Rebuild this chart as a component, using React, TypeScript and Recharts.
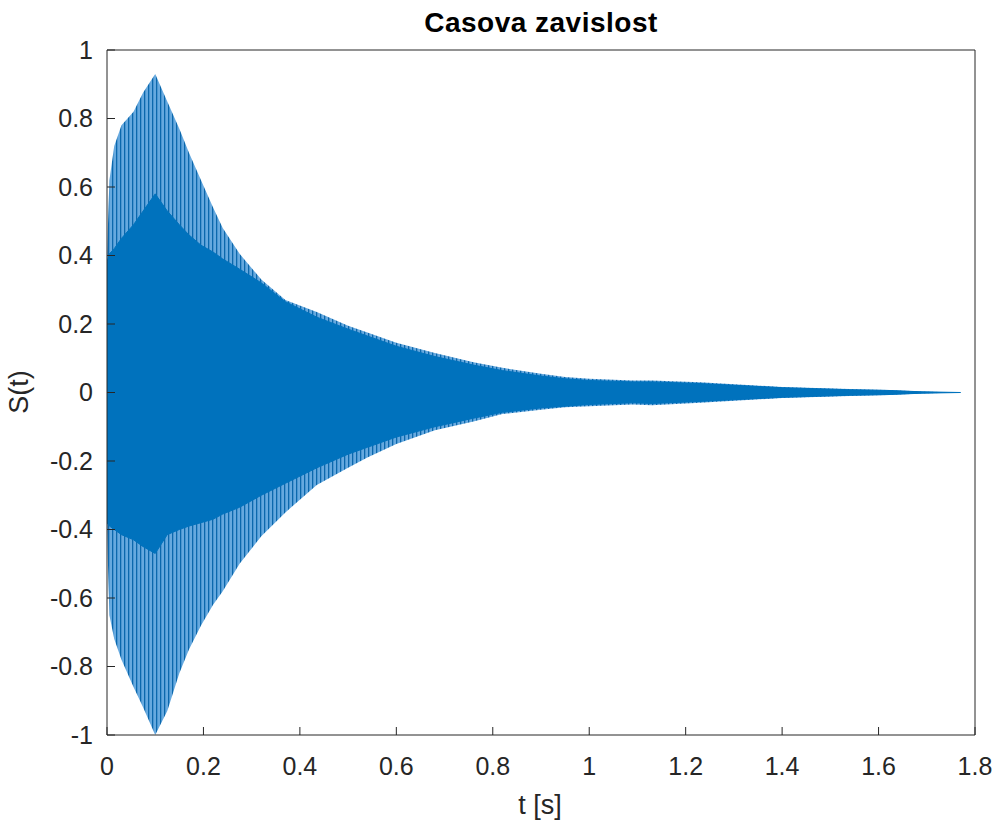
import React from "react";
import { ComposedChart, Area, XAxis, YAxis } from "recharts";

// time samples (s)
const times = [0, 0.005, 0.015, 0.03, 0.055, 0.075, 0.1, 0.125, 0.15, 0.17, 0.195, 0.22, 0.24, 0.275, 0.32, 0.37, 0.435, 0.5, 0.54, 0.6, 0.68, 0.76, 0.82, 0.9, 0.95, 1.0, 1.09, 1.13, 1.23, 1.4, 1.54, 1.62, 1.69, 1.77];

// outer (light, sparse lines) envelope
const outerHi = [0.4, 0.62, 0.72, 0.78, 0.82, 0.876, 0.93, 0.85, 0.77, 0.7, 0.62, 0.54, 0.48, 0.405, 0.33, 0.27, 0.235, 0.195, 0.175, 0.145, 0.115, 0.088, 0.072, 0.055, 0.045, 0.04, 0.035, 0.035, 0.03, 0.016, 0.01, 0.007, 0.003, 0];
const outerLo = [-0.4, -0.65, -0.72, -0.78, -0.86, -0.92, -1.0, -0.93, -0.82, -0.75, -0.68, -0.62, -0.58, -0.5, -0.42, -0.35, -0.27, -0.22, -0.19, -0.15, -0.11, -0.085, -0.063, -0.05, -0.043, -0.04, -0.035, -0.037, -0.03, -0.016, -0.01, -0.007, -0.003, 0];

// inner (solid) envelope
const innerHi = [0.38, 0.405, 0.42, 0.45, 0.49, 0.53, 0.58, 0.53, 0.49, 0.46, 0.43, 0.41, 0.39, 0.36, 0.32, 0.265, 0.22, 0.185, 0.165, 0.135, 0.105, 0.08, 0.064, 0.048, 0.04, 0.035, 0.031, 0.031, 0.026, 0.014, 0.008, 0.006, 0.002, 0];
const innerLo = [-0.38, -0.39, -0.4, -0.415, -0.43, -0.45, -0.47, -0.415, -0.4, -0.39, -0.38, -0.37, -0.355, -0.335, -0.3, -0.265, -0.22, -0.18, -0.16, -0.13, -0.1, -0.075, -0.058, -0.045, -0.04, -0.035, -0.03, -0.032, -0.026, -0.014, -0.008, -0.006, -0.002, 0];

const xTicks = [0, 0.2, 0.4, 0.6, 0.8, 1, 1.2, 1.4, 1.6, 1.8];
const yTicks = [-1, -0.8, -0.6, -0.4, -0.2, 0, 0.2, 0.4, 0.6, 0.8, 1];

const data = times.map((t, i) => ({
  t,
  outer: [outerLo[i], outerHi[i]],
  inner: [innerLo[i], innerHi[i]],
}));

const AXIS = "#262626";
const FONT = "'Liberation Sans', Arial, sans-serif";
const tickStyle = { fill: AXIS, fontSize: 25, fontFamily: FONT };

export default function App() {
  return (
    <div style={{ position: "absolute", left: 0, top: 0, width: 1003, height: 823, background: "#fff" }}>
      <ComposedChart width={1003} height={823} data={data} margin={{ top: 40, right: 18, bottom: 58, left: 47 }}>
        <defs>
          <pattern id="strokes" width="4" height="10" patternUnits="userSpaceOnUse">
            <rect width="4" height="10" fill="#66a9df" />
            <rect width="1.3" height="10" fill="#0b68ad" />
          </pattern>
        </defs>
        <XAxis
          xAxisId="bottom"
          dataKey="t"
          type="number"
          domain={[0, 1.8]}
          ticks={xTicks}
          allowDataOverflow
          height={30}
          stroke={AXIS}
          tickSize={-8}
          tickMargin={30}
          tick={tickStyle}
        />
        <XAxis
          xAxisId="top"
          orientation="top"
          dataKey="t"
          type="number"
          domain={[0, 1.8]}
          ticks={xTicks}
          allowDataOverflow
          height={10}
          stroke={AXIS}
          tickSize={-8}
          tick={false}
        />
        <YAxis
          yAxisId="left"
          type="number"
          domain={[-1, 1]}
          ticks={yTicks}
          allowDataOverflow
          width={60}
          stroke={AXIS}
          tickSize={-8}
          tickMargin={22}
          tick={tickStyle}
        />
        <YAxis
          yAxisId="right"
          orientation="right"
          type="number"
          domain={[-1, 1]}
          ticks={yTicks}
          allowDataOverflow
          width={10}
          stroke={AXIS}
          tickSize={-8}
          tick={false}
        />
        <Area
          xAxisId="bottom"
          yAxisId="left"
          type="linear"
          dataKey="outer"
          stroke="none"
          fill="url(#strokes)"
          fillOpacity={1}
          isAnimationActive={false}
        />
        <Area
          xAxisId="bottom"
          yAxisId="left"
          type="linear"
          dataKey="inner"
          stroke="#0072BD"
          strokeWidth={1}
          fill="#0072BD"
          fillOpacity={1}
          isAnimationActive={false}
        />
      </ComposedChart>
      <svg width={1003} height={823} style={{ position: "absolute", left: 0, top: 0, pointerEvents: "none" }}>
        <text x={541} y={32} textAnchor="middle" fontFamily={FONT} fontSize={28} fontWeight="bold" letterSpacing={0.5} fill="#000">
          Casova zavislost
        </text>
        <text x={540} y={814} textAnchor="middle" fontFamily={FONT} fontSize={27} fill={AXIS}>
          t [s]
        </text>
        <text x={28} y={392} textAnchor="middle" fontFamily={FONT} fontSize={27} fill={AXIS} transform="rotate(-90 28 392)">
          S(t)
        </text>
      </svg>
    </div>
  );
}
